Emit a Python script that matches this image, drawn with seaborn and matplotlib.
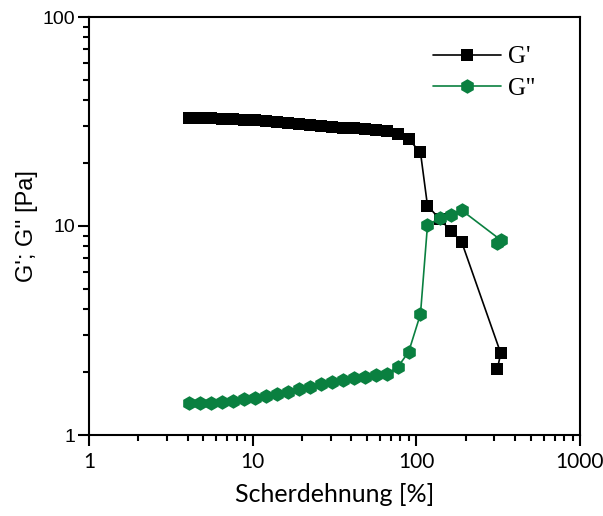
import numpy as np
import pandas as pd
import matplotlib
matplotlib.use("Agg")
import matplotlib.pyplot as plt
import seaborn as sns
from matplotlib.ticker import LogLocator, NullFormatter, FixedLocator, FixedFormatter

# ---- data ----
strain = [4.07, 4.80, 5.60, 6.54, 7.63, 8.90, 10.4, 12.1, 14.1, 16.5, 19.3, 22.5,
          26.2, 30.6, 35.5, 41.5, 48.4, 56.5, 65.9, 76.9, 89.8, 106, 117, 139,
          163, 189, 328, 313]
g_prime = [33.0, 32.9, 32.8, 32.6, 32.4, 32.2, 32.0, 31.7, 31.4, 31.1, 30.8, 30.5,
           30.2, 29.9, 29.6, 29.3, 29.0, 28.8, 28.5, 27.6, 26.0, 22.5, 12.5, 10.8,
           9.46, 8.41, 2.46, 2.08]
g_dprime = [1.42, 1.42, 1.43, 1.44, 1.46, 1.48, 1.50, 1.53, 1.57, 1.61, 1.66, 1.70,
            1.75, 1.80, 1.83, 1.88, 1.90, 1.94, 1.96, 2.11, 2.50, 3.79, 10.1, 10.9,
            11.3, 11.9, 8.57, 8.27]
x_ticks = [1, 10, 100, 1000]
x_ticklabels = ["1", "10", "100", "1000"]
y_ticks = [1, 10, 100]
y_ticklabels = ["1", "10", "100"]

df = pd.DataFrame({"strain": strain, "G'": g_prime, "G''": g_dprime})

sns.set_theme(style="ticks")
plt.rcParams['font.family'] = ['DejaVu Sans']
plt.rcParams['text.color'] = 'black'
plt.rcParams['axes.labelcolor'] = 'black'
plt.rcParams['xtick.color'] = 'black'
plt.rcParams['ytick.color'] = 'black'
plt.rcParams['xtick.labelcolor'] = 'black'
plt.rcParams['ytick.labelcolor'] = 'black'

fig = plt.figure(figsize=(6.03, 5.16), dpi=100)
ax = fig.add_axes([89/603, 1-435/516, (580-89)/603, (435-17)/516])

green = "#0a8040"
sns.lineplot(data=df, x="strain", y="G'", ax=ax, sort=False, color="black",
             marker="s", markersize=9, markeredgewidth=0, linewidth=1.2,
             label="G'", zorder=3)
sns.lineplot(data=df, x="strain", y="G''", ax=ax, sort=False, color=green,
             marker="h", markersize=10.5, markeredgewidth=0, linewidth=1.2,
             label="G''", zorder=4)

ax.set_xscale("log")
ax.set_yscale("log")
ax.set_xlim(1, 1000)
ax.set_ylim(1, 100)

ax.xaxis.set_major_locator(FixedLocator(x_ticks))
ax.xaxis.set_major_formatter(FixedFormatter(x_ticklabels))
ax.yaxis.set_major_locator(FixedLocator(y_ticks))
ax.yaxis.set_major_formatter(FixedFormatter(y_ticklabels))
ax.xaxis.set_minor_locator(LogLocator(base=10, subs=np.arange(2, 10), numticks=20))
ax.yaxis.set_minor_locator(LogLocator(base=10, subs=np.arange(2, 10), numticks=20))
ax.xaxis.set_minor_formatter(NullFormatter())
ax.yaxis.set_minor_formatter(NullFormatter())

for s in ax.spines.values():
    s.set_linewidth(1.5)
    s.set_color("black")
    s.set_visible(True)

ax.tick_params(which="major", direction="out", length=8, width=1.5, color="black")
ax.tick_params(which="minor", direction="out", length=4, width=1.5, color="black")
ax.tick_params(axis="x", which="major", labelsize=15, pad=4, labelcolor="black")
ax.tick_params(axis="y", which="major", labelsize=14, pad=2, labelcolor="black")
for lab in ax.get_xticklabels():
    lab.set_family("Lato")
for lab in ax.get_yticklabels():
    lab.set_family("Liberation Sans")

ax.set_xlabel("Scherdehnung [%]", fontsize=18, family="Lato", labelpad=8, color="black")
ax.set_ylabel("G'; G'' [Pa]", fontsize=17, family="Liberation Sans", labelpad=3, color="black")
ax.grid(False)

leg = ax.legend(loc="upper right", frameon=False, handlelength=2.7,
                prop={"family": "Liberation Serif", "size": 18},
                bbox_to_anchor=(0.955, 0.985), labelspacing=0.35, handletextpad=0.3,
                borderaxespad=0.5)
for t in leg.get_texts():
    t.set_color("black")

fig.savefig("out.png", dpi=100)
